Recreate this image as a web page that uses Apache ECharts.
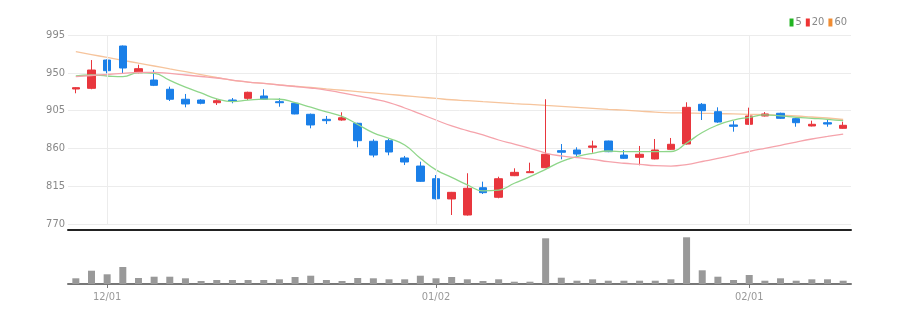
<!DOCTYPE html>
<html>
<head>
<meta charset="utf-8">
<script src="https://cdn.jsdelivr.net/npm/echarts@6/dist/echarts.min.js"></script>
<style>
html,body{margin:0;padding:0;background:#fff;}
#chart{width:903px;height:320px;}
</style>
</head>
<body>
<div id="chart"></div>
<script>
var dates = ['11/29','11/30','12/01','12/02','12/05','12/06','12/07','12/08','12/09','12/12',
  '12/13','12/14','12/15','12/16','12/19','12/20','12/21','12/22','12/23','12/26',
  '12/27','12/28','12/29','01/02','01/03','01/04','01/05','01/06','01/09','01/10',
  '01/11','01/12','01/13','01/16','01/17','01/18','01/19','01/20','01/25','01/26',
  '01/27','01/30','01/31','02/01','02/02','02/03','02/06','02/07','02/08','02/09'];
var tickLabels = ['12/01','01/02','02/01'];
var yTicks = [770, 815, 860, 905, 950, 995];
// open, close, low, high
var ohlc = [
  [930.7,932.3,925.6,932.8],[931.5,953.3,930.4,965.2],[965.2,952.5,949.4,966.0],[981.9,955.7,948.6,982.5],
  [950.1,954.9,949.5,959.6],[941.4,935.1,934.2,953.3],[930.4,918.5,916.4,933.5],[918.5,912.9,908.9,924.8],
  [917.6,913.7,912.5,918.6],[914.4,916.8,911.7,918.5],[917.6,916.1,913.7,920.0],[919.6,926.8,917.6,927.5],
  [922.4,918.5,917.8,930.4],[915.6,914.4,909.6,919.6],[913.7,901.0,900.6,914.3],[900.6,887.9,883.9,901.5],
  [894.6,893.0,889.0,898.6],[893.8,896.5,893.0,903.0],[889.9,869.2,861.3,890.5],[868.5,852.1,849.4,870.8],
  [869.2,855.7,851.8,871.2],[848.6,843.8,840.2,851.0],[839.0,820.8,820.0,844.2],[823.9,800.1,799.0,828.3],
  [799.8,807.7,780.7,808.2],[780.7,812.5,780.0,830.4],[813.2,807.3,805.7,820.4],[801.8,823.9,800.6,826.3],
  [827.5,831.5,827.0,836.3],[831.1,832.3,830.8,843.0],[837.0,853.0,836.5,918.5],[857.3,855.4,847.0,865.2],
  [858.1,853.3,851.0,861.3],[861.3,862.9,854.9,869.2],[868.8,856.1,855.5,869.2],[852.1,848.2,847.5,858.1],
  [849.4,853.0,839.9,862.9],[847.4,858.1,847.0,871.2],[858.9,864.9,858.5,872.4],[865.2,908.9,864.5,914.9],
  [912.5,904.9,893.8,914.0],[903.7,891.4,890.5,908.9],[887.9,886.3,879.9,892.6],[888.7,898.6,888.0,908.5],
  [898.6,901.0,898.0,903.3],[901.8,895.8,895.0,902.5],[895.4,890.6,885.8,896.0],[886.7,888.7,886.2,893.0],
  [890.6,889.0,885.8,893.8],[883.9,887.5,883.4,891.8]
];
var ma5 = [946.2,947.4,946.2,945.4,950.1,949.4,941.0,933.0,926.0,919.0,
  915.8,917.4,918.6,918.5,914.5,909.0,903.5,898.2,888.5,878.5,
  872.0,864.0,848.2,834.4,825.6,816.6,809.5,810.4,818.5,826.3,
  835.1,844.2,850.1,854.2,856.9,856.1,856.1,856.1,856.3,866.4,
  879.0,887.9,893.8,897.0,899.8,898.6,897.0,895.8,894.6,893.0];
var ma20 = [945.4,946.8,948.0,949.2,950.4,950.6,949.2,947.4,945.6,943.8,
  941.4,939.0,937.3,935.5,933.7,931.9,929.5,926.0,922.4,918.8,
  914.6,908.1,901.0,893.8,886.7,881.3,876.0,870.0,865.2,860.1,
  854.5,851.0,848.9,847.0,844.2,842.3,841.1,839.4,839.0,840.8,
  844.4,848.0,852.1,856.3,860.1,863.7,867.6,871.2,874.2,877.1];
var ma60 = [975.1,971.7,968.3,964.9,961.4,958.1,954.6,951.3,947.9,944.4,
  941.1,938.9,937.3,935.7,934.0,932.5,930.8,929.2,927.6,926.0,
  924.4,922.7,921.1,919.5,917.9,916.8,915.6,914.5,913.3,912.3,
  911.1,910.0,908.8,907.7,906.5,905.5,904.3,903.2,902.4,902.1,
  901.8,901.4,901.1,900.6,900.1,899.4,898.6,897.4,896.2,894.4];
var volume = [5700,13300,9700,17000,6000,7300,7300,5700,3000,4000,
  4000,4000,4000,4700,7000,8300,4000,3000,6000,5700,
  4700,4700,8300,5700,7000,4700,3000,4700,2300,2300,
  45700,6300,3300,4700,3300,3300,3300,3300,4700,46700,
  13700,7300,4000,9000,3300,5700,3300,4700,4700,3300];

var FONT = "'DejaVu Sans Condensed', 'Liberation Sans Narrow', 'Roboto Condensed', 'Liberation Sans', sans-serif";
var isTick = function (idx, val) { return tickLabels.indexOf(dates[idx]) >= 0; };

var chart = echarts.init(document.getElementById('chart'), null, {renderer: 'canvas'});
chart.setOption({
  animation: false,
  backgroundColor: '#fff',
  legend: {
    right: 56, top: 17, padding: 0,
    itemWidth: 4, itemHeight: 8, itemGap: 4,
    icon: 'rect',
    textStyle: {fontSize: 11, color: '#888', fontFamily: FONT, padding: [0, 0, 0, -3]},
    data: ['5', '20', '60']
  },
  grid: [
    {left: 68, right: 52, top: 35, height: 189},
    {left: 68, right: 52, top: 236, height: 48}
  ],
  xAxis: [
    {type: 'category', gridIndex: 0, data: dates, boundaryGap: true, offset: 6,
      axisLine: {lineStyle: {color: '#222', width: 2}},
      axisTick: {show: false}, axisLabel: {show: false}, splitLine: {show: false}},
    {type: 'category', gridIndex: 1, data: dates, boundaryGap: true,
      axisLine: {lineStyle: {color: '#777', width: 2}},
      axisTick: {show: true, alignWithLabel: true, interval: isTick, length: 4, lineStyle: {color: '#777'}},
      axisLabel: {interval: isTick, color: '#999', fontSize: 11, fontFamily: FONT, margin: 8},
      splitLine: {show: false}}
  ],
  yAxis: [
    {type: 'value', gridIndex: 0, min: yTicks[0], max: yTicks[yTicks.length - 1], interval: 45, scale: true,
      axisLine: {show: false}, axisTick: {show: false},
      axisLabel: {color: '#888', fontSize: 11, fontFamily: FONT, margin: 3},
      splitLine: {lineStyle: {color: '#ececec', width: 1}}},
    {type: 'value', gridIndex: 1, min: 0, max: 48000, show: false, splitLine: {show: false}}
  ],
  series: [
    {name: '5', type: 'line', xAxisIndex: 0, yAxisIndex: 0, data: ma5, smooth: true, showSymbol: false, z: 4,
      itemStyle: {color: '#22b422'}, lineStyle: {color: '#8fd68a', width: 1.3}},
    {name: '20', type: 'line', xAxisIndex: 0, yAxisIndex: 0, data: ma20, smooth: true, showSymbol: false, z: 4,
      itemStyle: {color: '#ee3333'}, lineStyle: {color: '#f5a3ab', width: 1.3}},
    {name: '60', type: 'line', xAxisIndex: 0, yAxisIndex: 0, data: ma60, smooth: true, showSymbol: false, z: 1,
      itemStyle: {color: '#f08c32'}, lineStyle: {color: '#f6c49c', width: 1.3},
      markLine: {silent: true, symbol: 'none', label: {show: false},
        lineStyle: {color: '#ececec', width: 1, type: 'solid'},
        data: tickLabels.map(function (t) { return {xAxis: t}; })}},
    {name: 'K', type: 'candlestick', xAxisIndex: 0, yAxisIndex: 0, data: ohlc, barWidth: 8, z: 3,
      itemStyle: {color: '#e8363d', color0: '#1a7fe8', borderColor: '#e8363d', borderColor0: '#1a7fe8', borderWidth: 1}},
    {name: 'vol', type: 'bar', xAxisIndex: 1, yAxisIndex: 1, data: volume, barWidth: 7,
      itemStyle: {color: '#999999'}}
  ]
});
</script>
</body>
</html>
